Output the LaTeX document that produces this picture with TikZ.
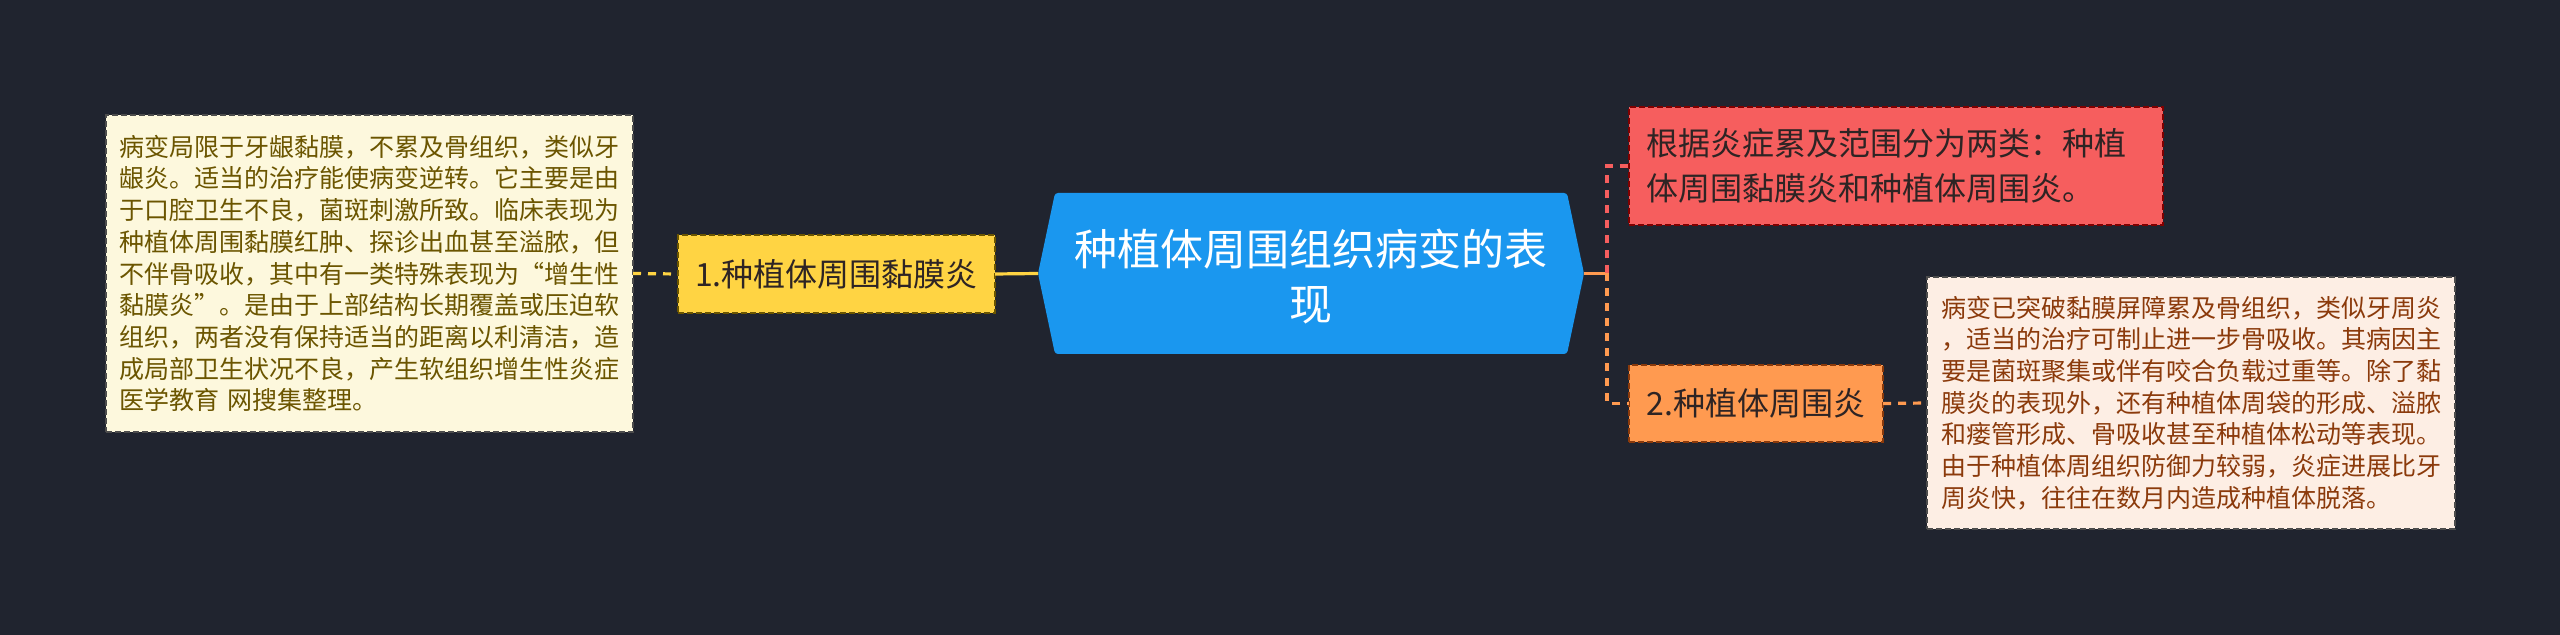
\documentclass[tikz,border=0pt]{standalone}
\usepackage{fontspec}
\newfontfamily\cjk{Noto Sans CJK SC}

\definecolor{bgdark}{HTML}{20242F}
\definecolor{hubblue}{HTML}{1A97EF}
\definecolor{yellowfill}{HTML}{FFD443}
\definecolor{creamfill}{HTML}{FDF8DD}
\definecolor{olivetext}{HTML}{6B5500}
\definecolor{redfill}{HTML}{F65E5E}
\definecolor{orangefill}{HTML}{FF9A50}
\definecolor{peachfill}{HTML}{FDEEE4}
\definecolor{rusttext}{HTML}{8B3A0B}
\definecolor{darktext}{HTML}{2E2424}

\tikzstyle{hubbox} = [inner sep=0,outer sep=0,minimum width=273pt,minimum height=80.5pt]
\tikzstyle{hubtext} = [text=white,align=center,font=\cjk\fontsize{21.5pt}{27.5pt}\selectfont]
\tikzstyle{branch} = [draw,dash pattern=on 3pt off 1.5pt,line width=0.6pt,inner sep=0,outer sep=0,text=darktext,font=\cjk\fontsize{16pt}{22.5pt}\selectfont]
\tikzstyle{leaf} = [draw=black!70,dash pattern=on 3pt off 1.5pt,line width=0.6pt,inner ysep=0,outer sep=0,align=left,text width=250pt,font=\cjk\fontsize{12.5pt}{15.85pt}\selectfont]
\tikzstyle{link} = [line width=1.6pt]
\tikzstyle{dashlink} = [line width=1.6pt,dash pattern=on 4pt off 3.5pt]

\begin{document}
\begin{tikzpicture}[x=0.5pt,y=-0.5pt]

\fill[bgdark] (0,0) rectangle (2560,635);

%CENTER
\node[hubbox] (hub) at (1311,273.5) {};
\fill[hubblue, rounded corners=1.5pt] (hub.west) -- ([xshift=8.5pt]hub.north west) -- ([xshift=-8.5pt]hub.north east)
  -- (hub.east) -- ([xshift=-8.5pt]hub.south east) -- ([xshift=8.5pt]hub.south west) -- cycle;
\node[hubtext] (hublabel) at (1311,277) {种植体周围组织病变的表\\现};


% LEFT
\node[branch, fill=yellowfill, draw=olivetext, minimum width=158.5pt, minimum height=39pt] (mucositis) at (836.5,274) {1.种植体周围黏膜炎};

\node[leaf, fill=creamfill, text=olivetext, inner xsep=6.75pt, minimum height=158.5pt] (mucositisnote) at (369.5,273.5) {病变局限于牙龈黏膜，不累及骨组织，类似牙\\龈炎。适当的治疗能使病变逆转。它主要是由\\于口腔卫生不良，菌斑刺激所致。临床表现为\\种植体周围黏膜红肿、探诊出血甚至溢脓，但\\不伴骨吸收，其中有一类特殊表现为“增生性\\黏膜炎”。是由于上部结构长期覆盖或压迫软\\组织，两者没有保持适当的距离以利清洁，造\\成局部卫生状况不良，产生软组织增生性炎症\\医学教育 网搜集整理。};

\draw[dashlink, yellowfill] (mucositisnote.east) -- (mucositis.west);
\draw[link, yellowfill] (mucositis.east) -- (hub.west);


% RIGHT
\node[branch, fill=redfill, draw=red!50!black, align=left, text width=250pt, inner xsep=8.5pt, minimum height=59pt] (types) at (1896,166) {根据炎症累及范围分为两类：种植\\体周围黏膜炎和种植体周围炎。};

\node[branch, fill=orangefill, draw=rusttext, minimum width=127pt, minimum height=38.5pt] (implantitis) at (1756,403.5) {2.种植体周围炎};

\node[leaf, fill=peachfill, text=rusttext, inner xsep=7pt, minimum height=126pt] (implantitisnote) at (2191,403) {病变已突破黏膜屏障累及骨组织，类似牙周炎\\，适当的治疗可制止进一步骨吸收。其病因主\\要是菌斑聚集或伴有咬合负载过重等。除了黏\\膜炎的表现外，还有种植体周袋的形成、溢脓\\和瘘管形成、骨吸收甚至种植体松动等表现。\\由于种植体周组织防御力较弱，炎症进展比牙\\周炎快，往往在数月内造成种植体脱落。};

\coordinate (fork) at (1607,273.5);
\draw[link, orangefill] (hub.east) -- (fork);
\draw[dashlink, redfill] (fork) |- (types.west);
\draw[dashlink, orangefill] (fork) |- (implantitis.west);
\draw[dashlink, orangefill] (implantitis.east) -- (implantitisnote.west);

\end{tikzpicture}
\end{document}
